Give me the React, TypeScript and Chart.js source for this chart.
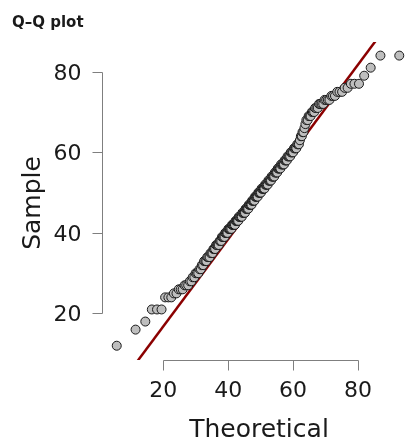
import React, { useEffect, useRef } from "react";
import { Chart, registerables } from "chart.js";

Chart.register(...registerables);

// Theoretical quantiles (x)
const theoretical = [
  5.7, 11.5, 14.5, 16.5, 18.1, 19.5, 20.6, 21.6, 22.5, 23.3,
  24.1, 24.8, 25.4, 26.0, 26.6, 27.1, 27.7, 28.2, 28.7, 29.1,
  29.6, 30.0, 30.4, 30.8, 31.2, 31.6, 31.9, 32.3, 32.6, 33.0,
  33.3, 33.6, 33.9, 34.3, 34.6, 34.9, 35.2, 35.5, 35.7, 36.0,
  36.3, 36.6, 36.8, 37.1, 37.4, 37.6, 37.9, 38.1, 38.4, 38.6,
  38.9, 39.1, 39.3, 39.6, 39.8, 40.1, 40.3, 40.5, 40.7, 41.0,
  41.2, 41.4, 41.6, 41.8, 42.1, 42.3, 42.5, 42.7, 42.9, 43.1,
  43.3, 43.5, 43.7, 44.0, 44.2, 44.4, 44.6, 44.8, 45.0, 45.2,
  45.4, 45.6, 45.8, 46.0, 46.2, 46.4, 46.6, 46.8, 47.0, 47.2,
  47.4, 47.5, 47.7, 47.9, 48.1, 48.3, 48.5, 48.7, 48.9, 49.1,
  49.3, 49.5, 49.7, 49.9, 50.1, 50.3, 50.5, 50.7, 50.9, 51.0,
  51.2, 51.4, 51.6, 51.8, 52.0, 52.2, 52.4, 52.6, 52.8, 53.0,
  53.2, 53.4, 53.6, 53.8, 54.0, 54.2, 54.4, 54.7, 54.9, 55.1,
  55.3, 55.5, 55.7, 55.9, 56.1, 56.3, 56.6, 56.8, 57.0, 57.2,
  57.4, 57.7, 57.9, 58.1, 58.3, 58.6, 58.8, 59.1, 59.3, 59.5,
  59.8, 60.0, 60.3, 60.5, 60.8, 61.0, 61.3, 61.6, 61.8, 62.1,
  62.4, 62.7, 62.9, 63.2, 63.5, 63.8, 64.1, 64.5, 64.8, 65.1,
  65.4, 65.8, 66.1, 66.5, 66.8, 67.2, 67.6, 68.0, 68.4, 68.8,
  69.3, 69.7, 70.2, 70.7, 71.2, 71.8, 72.3, 72.9, 73.6, 74.3,
  75.1, 75.9, 76.8, 77.8, 78.9, 80.3, 81.9, 83.9, 86.9, 92.7,
];

// Sorted sample values (y)
const sample = [
  12, 16, 18, 21, 21, 21, 24, 24, 24, 25,
  25, 26, 26, 26, 27, 27, 27, 28, 28, 29,
  29, 30, 30, 30, 31, 31, 32, 32, 33, 33,
  33, 34, 34, 34, 35, 35, 35, 36, 36, 36,
  37, 37, 37, 37, 38, 38, 38, 39, 39, 39,
  39, 40, 40, 40, 40, 41, 41, 41, 41, 41,
  42, 42, 42, 42, 42, 43, 43, 43, 43, 43,
  44, 44, 44, 44, 44, 45, 45, 45, 45, 45,
  46, 46, 46, 46, 46, 47, 47, 47, 47, 47,
  48, 48, 48, 48, 48, 49, 49, 49, 49, 49,
  50, 50, 50, 50, 50, 51, 51, 51, 51, 51,
  51, 52, 52, 52, 52, 52, 53, 53, 53, 53,
  53, 54, 54, 54, 54, 54, 55, 55, 55, 55,
  56, 56, 56, 56, 56, 57, 57, 57, 57, 57,
  58, 58, 58, 58, 59, 59, 59, 59, 60, 60,
  60, 60, 61, 61, 61, 61, 62, 62, 62, 63,
  64, 64, 65, 65, 66, 67, 68, 68, 69, 69,
  69, 70, 70, 70, 71, 71, 71, 72, 72, 72,
  72, 73, 73, 73, 73, 74, 74, 74, 75, 75,
  75, 76, 76, 77, 77, 77, 79, 81, 84, 84,
];

// Reference line end points
const qqLineX = [0, 95];
const qqLineY = [-4.9, 98.0];

const xTicks = [20, 40, 60, 80];
const yTicks = [20, 40, 60, 80];

const titleText = "Q–Q plot";
const xTitle = "Theoretical";
const yTitle = "Sample";

const W = 407;
const H = 439;
const FONT = "'DejaVu Sans', Verdana, sans-serif";

const rAxesPlugin = {
  id: "rAxes",
  afterDatasetsDraw(chart: any) {
    const { ctx, chartArea } = chart;
    const xs = chart.scales.x;
    const ys = chart.scales.y;
    ctx.save();
    ctx.strokeStyle = "#7f7f7f";
    ctx.lineWidth = 1;

    // x axis
    const ay = Math.round(chartArea.bottom) + 0.5;
    const xa = Math.round(xs.getPixelForValue(xTicks[0])) + 0.5;
    const xb = Math.round(xs.getPixelForValue(xTicks[xTicks.length - 1])) + 0.5;
    ctx.beginPath();
    ctx.moveTo(xa, ay);
    ctx.lineTo(xb, ay);
    xTicks.forEach((t) => {
      const px = Math.round(xs.getPixelForValue(t)) + 0.5;
      ctx.moveTo(px, ay);
      ctx.lineTo(px, ay + 10);
    });
    ctx.stroke();

    // y axis
    const ax = Math.round(chartArea.left) + 0.5;
    const ya = Math.round(ys.getPixelForValue(yTicks[0])) + 0.5;
    const yb = Math.round(ys.getPixelForValue(yTicks[yTicks.length - 1])) + 0.5;
    ctx.beginPath();
    ctx.moveTo(ax, ya);
    ctx.lineTo(ax, yb);
    yTicks.forEach((t) => {
      const py = Math.round(ys.getPixelForValue(t)) + 0.5;
      ctx.moveTo(ax, py);
      ctx.lineTo(ax - 10, py);
    });
    ctx.stroke();

    // tick labels
    ctx.fillStyle = "#1a1a1a";
    ctx.font = `22px ${FONT}`;
    ctx.textBaseline = "alphabetic";
    ctx.textAlign = "center";
    xTicks.forEach((t) => {
      ctx.fillText(String(t), xs.getPixelForValue(t), ay + 36);
    });
    ctx.textAlign = "right";
    yTicks.forEach((t) => {
      ctx.fillText(String(t), ax - 21, ys.getPixelForValue(t) + 8);
    });

    // axis titles
    ctx.font = `25px ${FONT}`;
    ctx.textAlign = "center";
    ctx.fillText(xTitle, (xa + xb) / 2 - 2, 437);
    ctx.save();
    ctx.translate(40, 203);
    ctx.rotate(-Math.PI / 2);
    ctx.fillText(yTitle, 0, 0);
    ctx.restore();

    // title
    ctx.font = `bold 15px ${FONT}`;
    ctx.textAlign = "left";
    ctx.fillText(titleText, 12, 27);
    ctx.restore();
  },
};

export default function App() {
  const ref = useRef<HTMLCanvasElement | null>(null);

  useEffect(() => {
    if (!ref.current) return;
    const points = theoretical.map((x, i) => ({ x, y: sample[i] }));
    const line = qqLineX.map((x, i) => ({ x, y: qqLineY[i] }));
    const chart = new Chart(ref.current, {
      type: "scatter",
      data: {
        datasets: [
          {
            data: points,
            pointRadius: 4.5,
            pointHoverRadius: 4.5,
            pointBackgroundColor: "#bebebe",
            pointBorderColor: "#1a1a1a",
            pointBorderWidth: 1,
            showLine: false,
            clip: false as any,
          },
          {
            type: "line" as any,
            data: line,
            borderColor: "#8b0000",
            borderWidth: 2.5,
            pointRadius: 0,
            showLine: true,
            fill: false,
            clip: 0 as any,
          },
        ],
      },
      options: {
        animation: false,
        responsive: false,
        events: [],
        layout: { padding: { left: 102, top: 42, right: 0, bottom: 79 } },
        scales: {
          x: { type: "linear", min: 1.16, max: 93.39, display: false },
          y: { type: "linear", min: 8.46, max: 87.37, display: false },
        },
        plugins: {
          legend: { display: false },
          tooltip: { enabled: false },
          title: { display: false },
        },
      },
      plugins: [rAxesPlugin],
    });
    return () => chart.destroy();
  }, []);

  return (
    <div style={{ position: "absolute", left: 0, top: 0, width: W, height: H, background: "#fff" }}>
      <canvas ref={ref} width={W} height={H} style={{ width: W, height: H, display: "block" }} />
    </div>
  );
}
